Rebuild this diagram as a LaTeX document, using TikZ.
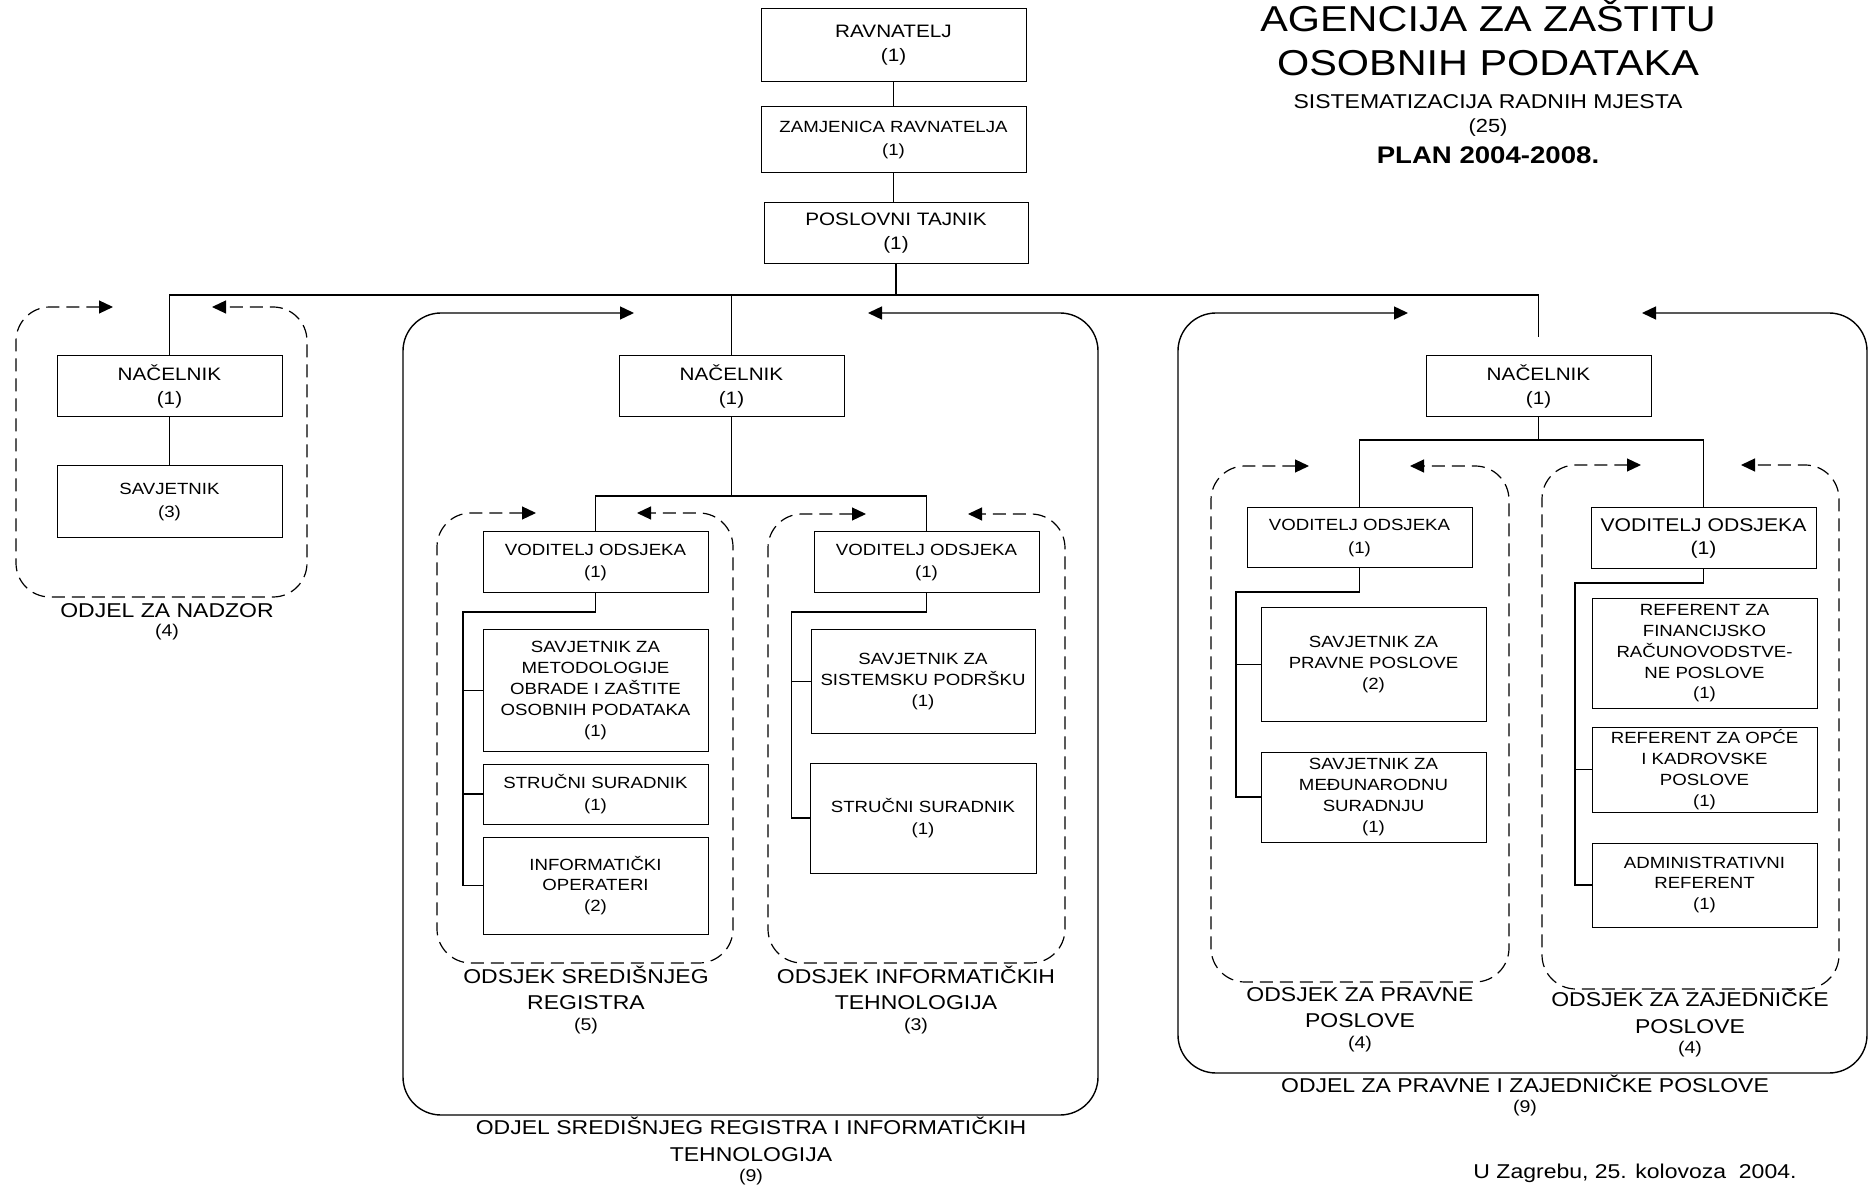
\documentclass[tikz,border=0pt]{standalone}
\usepackage{fontspec}
\setmainfont{Liberation Sans}[FakeStretch=1.15]
\usetikzlibrary{arrows.meta}

\newcommand{\broj}[1]{{\fontsize{8.5}{10}\selectfont(#1)}}

\begin{document}
\begin{tikzpicture}[x=0.5pt, y=-0.5pt,
    >={Triangle[length=7pt,width=6.5pt]},
    box/.style={draw, line width=0.5pt, minimum width=112.5pt, inner sep=0pt, align=center, font=\fontsize{8.1}{10.4}\selectfont},
    box2/.style={box, font=\fontsize{8.1}{11.3}\selectfont},
    bigbox/.style={box, font=\fontsize{9}{12}\selectfont},
    conn/.style={line width=0.75pt},
    odjel/.style={<->, rounded corners=19pt, line width=0.7pt},
    odsjek/.style={<->, rounded corners=17pt, line width=0.6pt, dash pattern=on 6.5pt off 3.5pt},
    natpis/.style={align=center, inner sep=0pt, font=\fontsize{10}{13}\selectfont}]
        \useasboundingbox (0,0) rectangle (1870,1187);
        \fill[white] (0,0) rectangle (1870,1187);

        % Title
        \node[anchor=base, font=\fontsize{18}{20}\selectfont] (naslov1) at (1488,32) {AGENCIJA ZA ZAŠTITU};
        \node[anchor=base, font=\fontsize{18}{20}\selectfont] (naslov2) at (1488,76) {OSOBNIH PODATAKA};
        \node[anchor=base, font=\fontsize{10}{12}\selectfont] (sist) at (1488,109) {SISTEMATIZACIJA RADNIH MJESTA};
        \node[anchor=base, font=\fontsize{9.5}{12}\selectfont] (ukupno) at (1488,133) {(25)};
        \node[anchor=base, font=\bfseries\fontsize{12}{14}\selectfont] (plan) at (1488,164) {PLAN 2004-2008.};

        % Top of the chart
        \node[bigbox, minimum width=132.5pt, minimum height=36.5pt] (rav) at (893.5,45.5) {RAVNATELJ\\(1)};
        \node[box2, minimum width=132.5pt, minimum height=33pt] (zam) at (893.5,140) {ZAMJENICA RAVNATELJA\\(1)};
        \node[bigbox, minimum width=132pt, minimum height=30.5pt] (pos) at (896,233.5) {POSLOVNI TAJNIK\\(1)};

        % Odjel za nadzor
        \node[bigbox, minimum height=30.5pt] (nac1) at (169.5,386.5) {NAČELNIK\\(1)};
        \node[box2, minimum height=36pt] (sav1) at (169.5,502) {SAVJETNIK\\(3)};

        % Odjel sredisnjeg registra i informatickih tehnologija
        \node[bigbox, minimum height=30.5pt] (nac2) at (731.5,386.5) {NAČELNIK\\(1)};
        \node[box2, minimum height=30.5pt] (vod2a) at (595.5,562.5) {VODITELJ ODSJEKA\\(1)};
        \node[box, minimum height=60.5pt] (met) at (595.5,690.5) {SAVJETNIK ZA\\METODOLOGIJE\\OBRADE I ZAŠTITE\\OSOBNIH PODATAKA\\(1)};
        \node[box2, minimum height=30pt] (str2a) at (595.5,794) {STRUČNI SURADNIK\\(1)};
        \node[box, minimum height=48.5pt] (inf) at (595.5,885.5) {INFORMATIČKI\\OPERATERI\\(2)};
        \node[box2, minimum height=30.5pt] (vod2b) at (926.5,562.5) {VODITELJ ODSJEKA\\(1)};
        \node[box, minimum width=112pt, minimum height=51.5pt] (sis) at (923,681.5) {SAVJETNIK ZA\\SISTEMSKU PODRŠKU\\(1)};
        \node[box2, minimum width=113pt, minimum height=55pt] (str2b) at (923,818) {STRUČNI SURADNIK\\(1)};

        % Odjel za pravne i zajednicke poslove
        \node[bigbox, minimum height=30.5pt] (nac3) at (1538.5,386.5) {NAČELNIK\\(1)};
        \node[box2, minimum height=30pt] (vod3a) at (1359.5,538) {VODITELJ ODSJEKA\\(1)};
        \node[box, minimum height=56.5pt] (pra) at (1373.5,664.5) {SAVJETNIK ZA\\PRAVNE POSLOVE\\(2)};
        \node[box, minimum height=45pt] (med) at (1373.5,797) {SAVJETNIK ZA\\MEĐUNARODNU\\SURADNJU\\(1)};
        \node[bigbox, font=\fontsize{9.2}{11.2}\selectfont, minimum height=30.5pt] (vod3b) at (1703.5,538.5) {VODITELJ ODSJEKA\\(1)};
        \node[box, minimum height=54.5pt] (fin) at (1704.5,653.5) {REFERENT ZA\\FINANCIJSKO\\RAČUNOVODSTVE-\\NE POSLOVE\\(1)};
        \node[box, minimum height=42.5pt] (opc) at (1704.5,769.5) {REFERENT ZA OPĆE\\I KADROVSKE\\POSLOVE\\(1)};
        \node[box, minimum height=42pt] (adm) at (1704.5,885) {ADMINISTRATIVNI\\REFERENT\\(1)};

        % Connectors
        \coordinate (sab) at (896,295);
        \coordinate (rez3) at (1538.5,337);
        \draw[conn] (rav) -- (zam);
        \draw[conn] (zam.south) -- (zam.south |- pos.north);
        \draw[conn] (pos.south) -- (sab);
        \draw[conn] (nac1.north) |- (rez3 |- sab) -- (rez3);
        \draw[conn] (nac2.north |- sab) -- (nac2.north);
        \draw[conn] (nac1) -- (sav1);

        \coordinate (r2) at (731.5,496);
        \coordinate (k2a) at (463,612);
        \coordinate (k2b) at (791.5,612);
        \draw[conn] (nac2) -- (r2);
        \draw[conn] (vod2a) |- (r2) -| (vod2b);
        \draw[conn] (vod2a) |- (k2a) |- (inf);
        \draw[conn] (k2a |- met) -- (met);
        \draw[conn] (k2a |- str2a) -- (str2a);
        \draw[conn] (vod2b) |- (k2b) |- (str2b);
        \draw[conn] (k2b |- sis) -- (sis);

        \coordinate (r3) at (1538.5,440);
        \coordinate (k3a) at (1236,592);
        \coordinate (k3b) at (1575,583);
        \draw[conn] (nac3) -- (r3);
        \draw[conn] (vod3a) |- (r3) -| (vod3b);
        \draw[conn] (vod3a) |- (k3a) |- (med);
        \draw[conn] (k3a |- pra) -- (pra);
        \draw[conn] (vod3b) |- (k3b) |- (adm);
        \draw[conn] (k3b |- opc) -- (opc);

        % Frames of the units
        \draw[odsjek] (113,307) -- (16,307) -- (16,597) -- (307,597) -- (307,307) -- (212,307);
        \draw[odjel] (634,313) -- (403,313) -- (403,1115) -- (1098,1115) -- (1098,313) -- (868,313);
        \draw[odsjek] (536,513) -- (437,513) -- (437,963) -- (733,963) -- (733,513) -- (637,513);
        \draw[odsjek] (866,514) -- (768,514) -- (768,963) -- (1065,963) -- (1065,514) -- (968,514);
        \draw[odjel] (1408,313) -- (1178,313) -- (1178,1073) -- (1867,1073) -- (1867,313) -- (1642,313);
        \draw[odsjek] (1309,466) -- (1211,466) -- (1211,982) -- (1509,982) -- (1509,466) -- (1410,466);
        \draw[odsjek] (1641,465) -- (1542,465) -- (1542,989) -- (1839,989) -- (1839,465) -- (1741,465);

        % Unit names
        \node[natpis] (ime1) at (167,622) {ODJEL ZA NADZOR\\[-3.5pt]\broj{4}};
        \node[natpis] (ime2a) at (586,1000) {ODSJEK SREDIŠNJEG\\REGISTRA\\[-2.5pt]\broj{5}};
        \node[natpis] (ime2b) at (916,1000) {ODSJEK INFORMATIČKIH\\TEHNOLOGIJA\\[-2.5pt]\broj{3}};
        \node[natpis] (ime2) at (751,1151) {ODJEL SREDIŠNJEG REGISTRA I INFORMATIČKIH\\[0.5pt]TEHNOLOGIJA\\[-3pt]\broj{9}};
        \node[natpis] (ime3a) at (1360,1020) {ODSJEK ZA PRAVNE\\POSLOVE\\[-2.5pt]\broj{4}};
        \node[natpis] (ime3b) at (1690,1023) {ODSJEK ZA ZAJEDNIČKE\\[0.5pt]POSLOVE\\[-3pt]\broj{4}};
        \node[natpis] (ime3) at (1525,1096) {ODJEL ZA PRAVNE I ZAJEDNIČKE POSLOVE\\[-3pt]\broj{9}};

        % Place and date
        \node[anchor=base, font=\fontsize{10}{12}\selectfont] (datum) at (1635,1178) {U Zagrebu, 25. kolovoza\ \ 2004.};
\end{tikzpicture}
\end{document}
